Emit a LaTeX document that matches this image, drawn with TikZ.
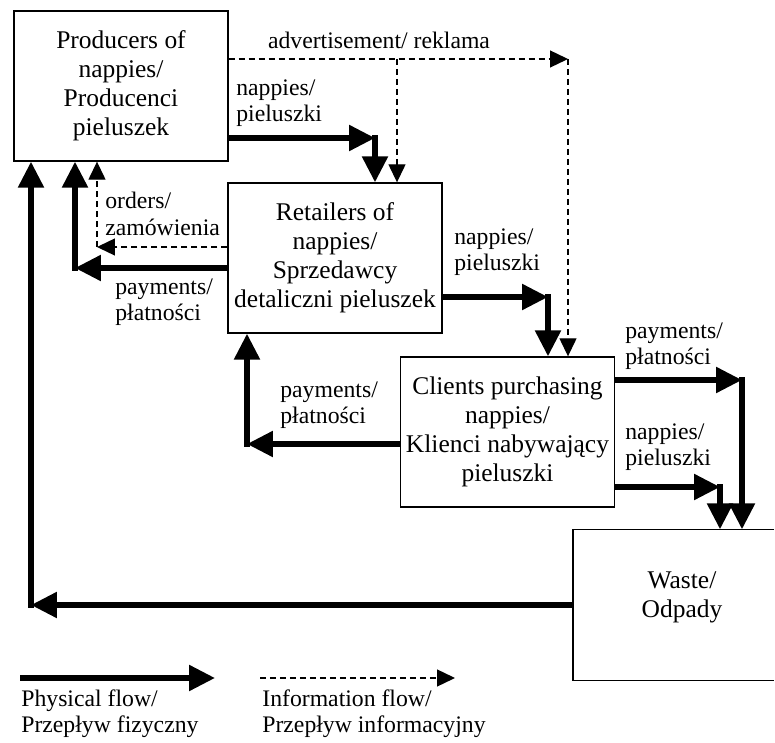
\documentclass[tikz,border=0pt]{standalone}
\usepackage{fontspec}
\setmainfont{Liberation Serif}
\usetikzlibrary{arrows.meta}

\begin{document}
\begin{tikzpicture}[x=0.02cm, y=-0.02cm,
    box/.style={draw, line width=0.8pt, minimum width=4.28cm, minimum height=3cm,
      align=center, inner sep=0pt, font=\fontsize{14.5}{16.5}\selectfont},
    lbl/.style={anchor=west, align=left, inner sep=0pt, font=\fontsize{13.5}{15}\selectfont},
    phys/.style={line width=0.11cm, -{Triangle[length=0.52cm, width=0.5cm]}},
    info/.style={line width=0.75pt, dash pattern=on 0.12cm off 0.08cm,
      -{Triangle[length=0.36cm, width=0.34cm]}}]

  \useasboundingbox (0,0) rectangle (775,743);

  % boxes
  \node[box] (prod) at (121,86) {Producers of\\nappies/\\Producenci\\pieluszek};
  \node[box] (ret) at (335,258) {Retailers of\\nappies/\\Sprzedawcy\\detaliczni pieluszek};
  \node[box] (cli) at (507.5,432) {Clients purchasing\\nappies/\\Klienci nabywający\\pieluszki};
  % waste box runs off the right edge
  \node[box, draw=none] (waste) at (680.5,605) {};
  \draw[line width=0.8pt] (waste.north -| 774,0) -- (waste.north west)
    -- (waste.south west) -- (waste.south -| 774,0);
  \node[box, draw=none, minimum width=0pt, minimum height=0pt] (wastetxt) at (682,597) {Waste/\\Odpady};

  % corners of the flows
  \coordinate (pr1) at (375,138);
  \coordinate (rc1) at (548,297);
  \coordinate (cw1) at (742,380);
  \coordinate (cw2) at (720,487);
  \coordinate (pa1) at (75,268);
  \coordinate (cr1) at (247,444);
  \coordinate (wp1) at (31,605);
  \coordinate (ad1) at (397,59);
  \coordinate (ad2) at (568,59);
  \coordinate (or1) at (97,247);

  % physical flows
  \foreach \a/\c/\b in {prod.east/pr1/ret.north, ret.east/rc1/cli.north,
      cli.east/cw1/waste.north, cli.east/cw2/waste.north, ret.west/pa1/prod.south,
      cli.west/cr1/ret.south, waste.west/wp1/prod.south}{
    \draw[phys] (\a |- \c) -- (\c);
    \draw[phys, line cap=rect] (\c) -- (\c |- \b);
  }

  % information flows
  \draw[info] (prod.east |- ad2) -- (ad2);
  \draw[info] (ad2) -- (ad2 |- cli.north);
  \draw[info] (ad1) -- (ad1 |- ret.north);
  \draw[info] (ret.west |- or1) -- (or1);
  \draw[info] (or1) -- (or1 |- prod.south);

  % labels
  \node[lbl, anchor=center] (adv) at (379,40) {advertisement/ reklama};
  \node[lbl] (npr) at (236,103) {nappies/\\pieluszki};
  \node[lbl] (ord) at (105,214) {orders/\\zamówienia};
  \node[lbl] (ppr) at (115,302) {payments/\\płatności};
  \node[lbl] (nrc) at (454,252) {nappies/\\pieluszki};
  \node[lbl] (pcr) at (280,405) {payments/\\płatności};
  \node[lbl] (pcw) at (625,346) {payments/\\płatności};
  \node[lbl] (ncw) at (625,447) {nappies/\\pieluszki};

  % legend
  \coordinate (lg1) at (20,678);
  \coordinate (lg2) at (215,678);
  \coordinate (lg3) at (260,678);
  \coordinate (lg4) at (455,678);
  \draw[phys] (lg1) -- (lg2);
  \draw[info] (lg3) -- (lg4);
  \node[lbl] (lgp) at (21,714) {Physical flow/\\Przepływ fizyczny};
  \node[lbl] (lgi) at (262,714) {Information flow/\\Przepływ informacyjny};
\end{tikzpicture}
\end{document}
